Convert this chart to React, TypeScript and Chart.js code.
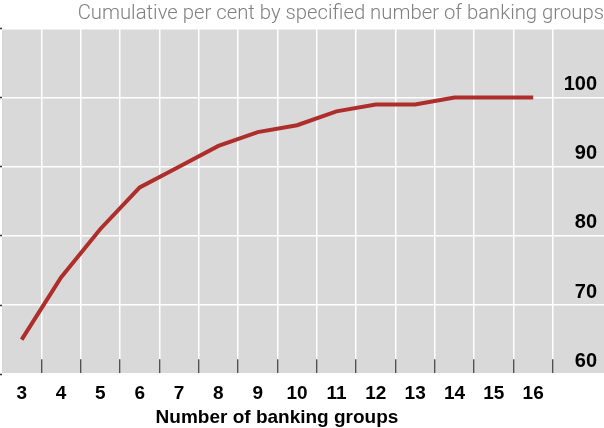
import { useEffect, useRef } from 'react'
import { Chart, registerables } from 'chart.js'

Chart.register(...registerables)

// number of banking groups (x) and cumulative per cent (y)
const groups = [3, 4, 5, 6, 7, 8, 9, 10, 11, 12, 13, 14, 15, 16]
const cumulative = [65, 74, 81, 87, 90, 93, 95, 96, 98, 99, 99, 100, 100, 100]
// boundaries between groups, where the white grid lines sit
const boundaries = [3.5, 4.5, 5.5, 6.5, 7.5, 8.5, 9.5, 10.5, 11.5, 12.5, 13.5, 14.5, 15.5, 16.5]
const yTicks = [60, 70, 80, 90, 100, 110]

const TITLE = 'Cumulative per cent by specified number of banking groups'
const X_TITLE = 'Number of banking groups'

const LABEL_FONT = { family: '"Liberation Sans", Arial, sans-serif', size: 19, weight: 'bold' as const }

// paint the plot area grey before anything else
const plotBackground = {
  id: 'plotBackground',
  beforeDraw(chart: Chart) {
    const { ctx, chartArea } = chart
    if (!chartArea) return
    ctx.save()
    ctx.fillStyle = '#d9d9d9'
    ctx.fillRect(chartArea.left, chartArea.top, chartArea.right - chartArea.left, chartArea.bottom - chartArea.top)
    ctx.restore()
  }
}

export default function App() {
  const canvasRef = useRef<HTMLCanvasElement | null>(null)

  useEffect(() => {
    if (!canvasRef.current) return

    const chart = new Chart(canvasRef.current, {
      type: 'line',
      data: {
        datasets: [
          {
            data: groups.map((g, i) => ({ x: g, y: cumulative[i] })),
            borderColor: '#ad2e2b',
            borderWidth: 4,
            pointRadius: 0,
            tension: 0,
            xAxisID: 'x',
            yAxisID: 'y'
          }
        ]
      },
      options: {
        animation: false,
        responsive: true,
        maintainAspectRatio: false,
        layout: { padding: { left: 0, right: 0, top: 0, bottom: 15 } },
        plugins: {
          legend: { display: false },
          tooltip: { enabled: false },
          title: {
            display: true,
            text: TITLE,
            align: 'end',
            color: '#808080',
            font: { family: 'Roboto, "Liberation Sans", sans-serif', size: 20.3, weight: '300' },
            padding: { top: 2, bottom: 2 }
          }
        },
        scales: {
          // white grid lines and short dark tick marks between the groups
          xg: {
            type: 'linear',
            position: 'bottom',
            bounds: 'data',
            weight: 0,
            min: 2.5,
            max: 17.8,
            afterBuildTicks: scale => {
              scale.ticks = boundaries.map(v => ({ value: v }))
            },
            afterFit: scale => {
              scale.height = 0
            },
            ticks: { display: false },
            border: { display: false },
            grid: {
              color: '#ffffff',
              lineWidth: 1.5,
              tickColor: '#333333',
              tickLength: -15,
              tickWidth: 1.2,
              drawTicks: true
            }
          },
          // group labels, centred on each group
          x: {
            type: 'linear',
            position: 'bottom',
            bounds: 'data',
            weight: 1,
            min: 2.5,
            max: 17.8,
            afterBuildTicks: scale => {
              scale.ticks = groups.map(v => ({ value: v }))
            },
            border: { display: false },
            grid: { display: false, drawTicks: false },
            ticks: {
              color: '#000000',
              font: LABEL_FONT,
              padding: 8,
              maxRotation: 0,
              autoSkip: false
            }
          },
          // value labels sit inside the plot, just above each grid line
          y: {
            type: 'linear',
            position: 'right',
            min: 60,
            max: 110,
            afterBuildTicks: scale => {
              scale.ticks = yTicks.map(v => ({ value: v }))
            },
            afterFit: scale => {
              scale.width = 0
            },
            border: { display: false },
            grid: { color: '#ffffff', lineWidth: 1.5, drawTicks: false },
            ticks: {
              mirror: true,
              color: '#000000',
              font: { ...LABEL_FONT, size: 20 },
              padding: -7,
              labelOffset: -13,
              callback: v => (Number(v) >= 110 ? '' : String(v))
            }
          },
          // tiny dark marks on the left edge
          yl: {
            type: 'linear',
            position: 'left',
            min: 60,
            max: 110,
            afterBuildTicks: scale => {
              scale.ticks = yTicks.map(v => ({ value: v }))
            },
            border: { display: false },
            ticks: { display: false },
            grid: {
              drawOnChartArea: false,
              drawTicks: true,
              tickLength: 2,
              tickColor: '#333333',
              tickWidth: 1.5
            }
          }
        }
      },
      plugins: [plotBackground]
    })

    return () => chart.destroy()
  }, [])

  return (
    <div style={{ position: 'absolute', left: 0, top: 0, width: 604, height: 428, background: '#ffffff' }}>
      <canvas ref={canvasRef} />
      <div
        style={{
          position: 'absolute',
          left: 0,
          top: 405,
          width: 554,
          textAlign: 'center',
          fontFamily: '"Liberation Sans", Arial, sans-serif',
          fontWeight: 'bold',
          fontSize: 19,
          lineHeight: '24px',
          color: '#000000'
        }}
      >
        {X_TITLE}
      </div>
    </div>
  )
}
